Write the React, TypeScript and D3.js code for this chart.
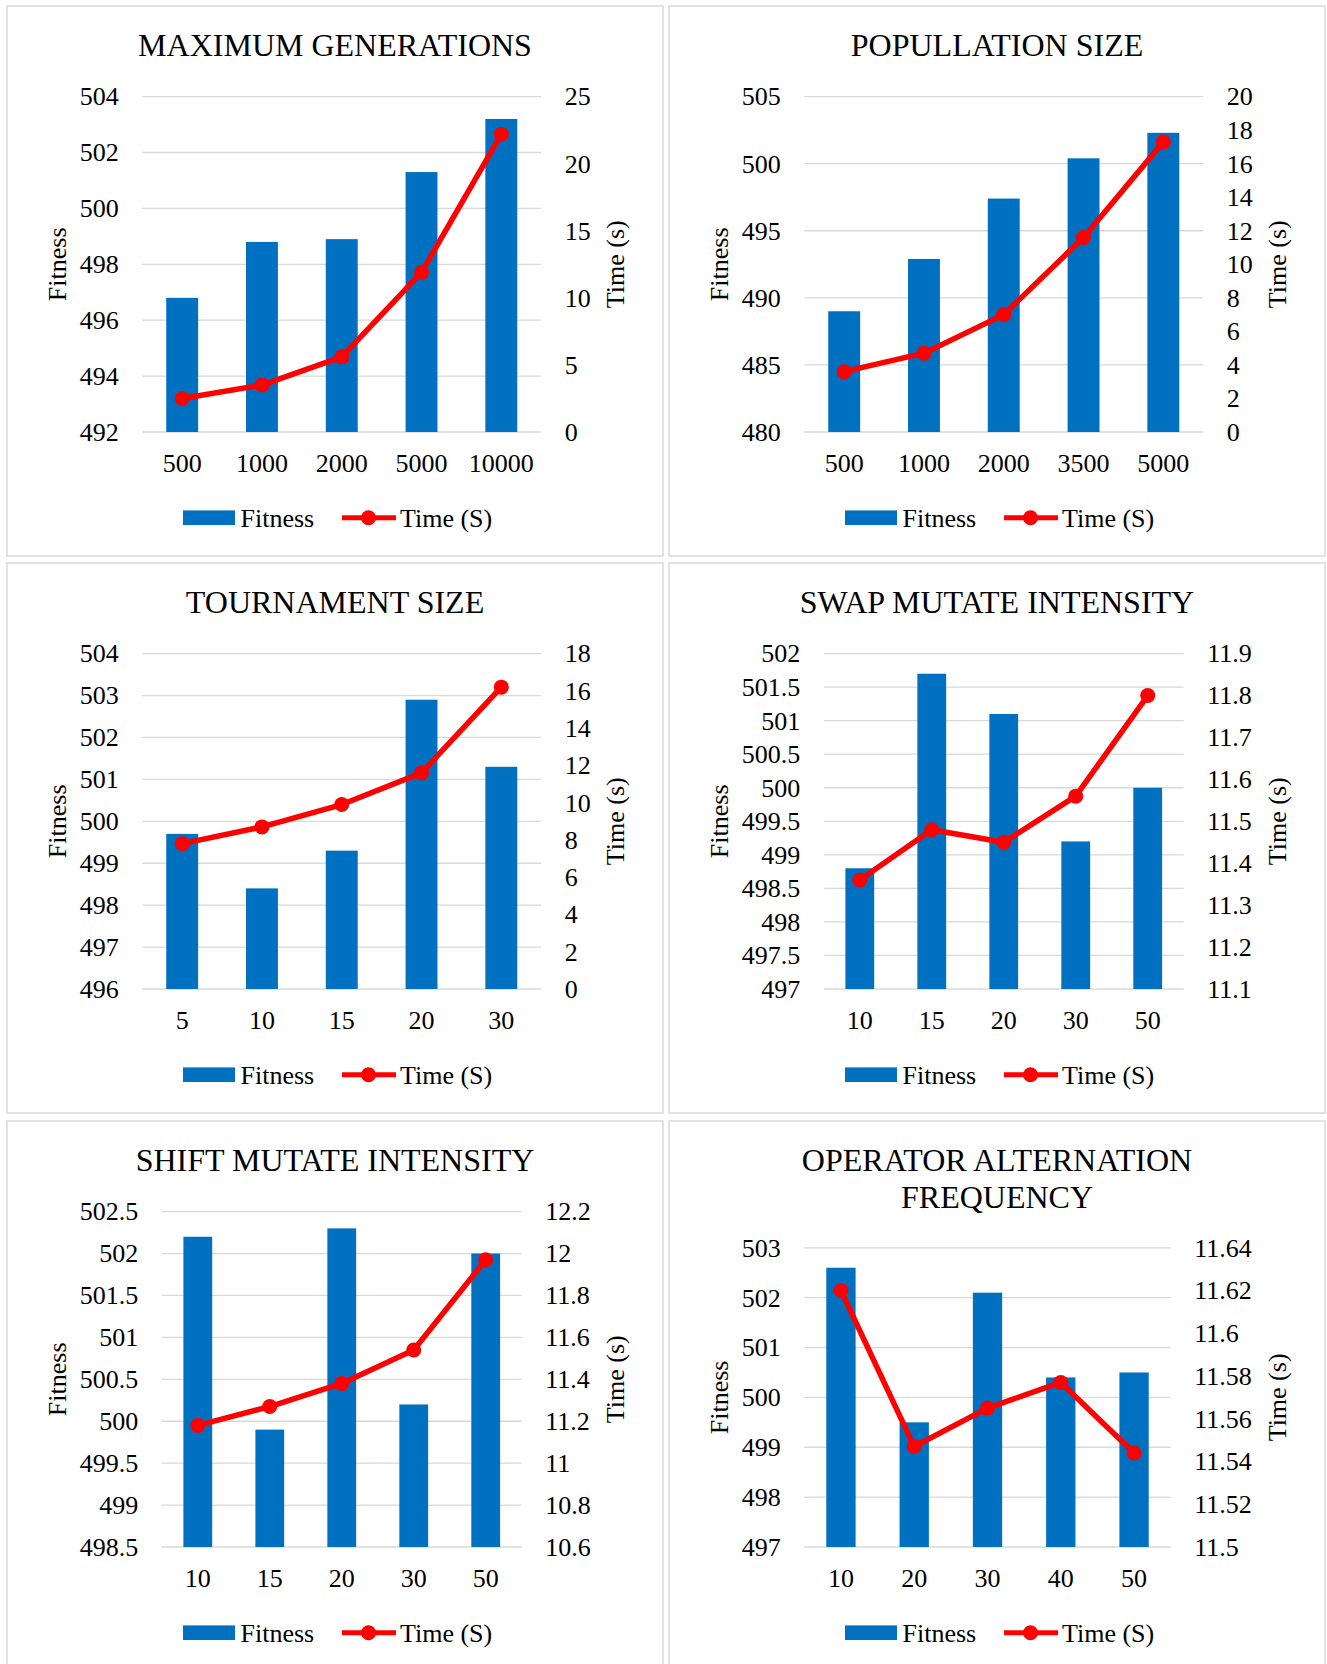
import React from "react";
import * as d3 from "d3";

// ---------- DATA ----------
const maxGenTitle = ["MAXIMUM GENERATIONS"];
const maxGenCategories = ["500", "1000", "2000", "5000", "10000"];
const maxGenFitness = [496.8, 498.8, 498.9, 501.3, 503.2];
const maxGenTime = [2.5, 3.5, 5.6, 11.9, 22.2];
const maxGenFitnessTicks = [492, 494, 496, 498, 500, 502, 504];
const maxGenTimeTicks = [0, 5, 10, 15, 20, 25];

const popTitle = ["POPULLATION SIZE"];
const popCategories = ["500", "1000", "2000", "3500", "5000"];
const popFitness = [489.0, 492.9, 497.4, 500.4, 502.3];
const popTime = [3.6, 4.7, 7.0, 11.6, 17.3];
const popFitnessTicks = [480, 485, 490, 495, 500, 505];
const popTimeTicks = [0, 2, 4, 6, 8, 10, 12, 14, 16, 18, 20];

const tourTitle = ["TOURNAMENT SIZE"];
const tourCategories = ["5", "10", "15", "20", "30"];
const tourFitness = [499.7, 498.4, 499.3, 502.9, 501.3];
const tourTime = [7.8, 8.7, 9.9, 11.6, 16.2];
const tourFitnessTicks = [496, 497, 498, 499, 500, 501, 502, 503, 504];
const tourTimeTicks = [0, 2, 4, 6, 8, 10, 12, 14, 16, 18];

const swapTitle = ["SWAP MUTATE INTENSITY"];
const swapCategories = ["10", "15", "20", "30", "50"];
const swapFitness = [498.8, 501.7, 501.1, 499.2, 500.0];
const swapTime = [11.36, 11.48, 11.45, 11.56, 11.8];
const swapFitnessTicks = [497, 497.5, 498, 498.5, 499, 499.5, 500, 500.5, 501, 501.5, 502];
const swapTimeTicks = [11.1, 11.2, 11.3, 11.4, 11.5, 11.6, 11.7, 11.8, 11.9];

const shiftTitle = ["SHIFT MUTATE INTENSITY"];
const shiftCategories = ["10", "15", "20", "30", "50"];
const shiftFitness = [502.2, 499.9, 502.3, 500.2, 502.0];
const shiftTime = [11.18, 11.27, 11.38, 11.54, 11.97];
const shiftFitnessTicks = [498.5, 499, 499.5, 500, 500.5, 501, 501.5, 502, 502.5];
const shiftTimeTicks = [10.6, 10.8, 11, 11.2, 11.4, 11.6, 11.8, 12, 12.2];

const opTitle = ["OPERATOR ALTERNATION", "FREQUENCY"];
const opCategories = ["10", "20", "30", "40", "50"];
const opFitness = [502.6, 499.5, 502.1, 500.4, 500.5];
const opTime = [11.62, 11.547, 11.565, 11.577, 11.544];
const opFitnessTicks = [497, 498, 499, 500, 501, 502, 503];
const opTimeTicks = [11.5, 11.52, 11.54, 11.56, 11.58, 11.6, 11.62, 11.64];

const legendLabels = ["Fitness", "Time (S)"];
const axisLabels = ["Fitness", "Time (s)"];

// ---------- STYLE ----------
const FONT = "'Liberation Serif', 'Times New Roman', Times, serif";
const BLUE = "#0070C0";
const RED = "#FF0000";
const GRID = "#D9D9D9";
const TXT = "#000000";

const panels = [
  { title: maxGenTitle, cats: maxGenCategories, fit: maxGenFitness, time: maxGenTime, fTicks: maxGenFitnessTicks, tTicks: maxGenTimeTicks },
  { title: popTitle, cats: popCategories, fit: popFitness, time: popTime, fTicks: popFitnessTicks, tTicks: popTimeTicks },
  { title: tourTitle, cats: tourCategories, fit: tourFitness, time: tourTime, fTicks: tourFitnessTicks, tTicks: tourTimeTicks },
  { title: swapTitle, cats: swapCategories, fit: swapFitness, time: swapTime, fTicks: swapFitnessTicks, tTicks: swapTimeTicks },
  { title: shiftTitle, cats: shiftCategories, fit: shiftFitness, time: shiftTime, fTicks: shiftFitnessTicks, tTicks: shiftTimeTicks },
  { title: opTitle, cats: opCategories, fit: opFitness, time: opTime, fTicks: opFitnessTicks, tTicks: opTimeTicks },
];

const fmt = (v: number) => String(+v.toFixed(4));
const textW = (s: string) => {
  let w = 0;
  for (const c of s) w += c === "." ? 0.25 : 0.5;
  return w * 26;
};

const colX = [7, 669];
const rowY = [6, 563, 1121];
const PW = 656;
const PH = 550;

function Panel({ p, x0, y0 }: any) {
  const fLabels = p.fTicks.map(fmt);
  const tLabels = p.tTicks.map(fmt);
  const maxL = Math.max(...fLabels.map(textW));
  const maxR = Math.max(...tLabels.map(textW));
  const left = 72.8 + maxL + 23.5;
  const right = 583.7 - maxR - 23.5;
  const top = p.title.length > 1 ? 126.8 : 90.6;
  const bottom = 426;

  const x = d3.scaleBand<string>().domain(p.cats).range([left, right]).paddingInner(0.6).paddingOuter(0.3);
  const yF = d3.scaleLinear().domain(d3.extent(p.fTicks) as [number, number]).range([bottom, top]);
  const yT = d3.scaleLinear().domain(d3.extent(p.tTicks) as [number, number]).range([bottom, top]);
  const line = d3
    .line<number>()
    .x((_, i) => (x(p.cats[i]) as number) + x.bandwidth() / 2)
    .y((d) => yT(d));
  const cx = PW / 2;
  const midY = (top + bottom) / 2;
  const lgX = cx - 152;
  const lgY = 511.7;

  return (
    <g transform={`translate(${x0},${y0})`} fontFamily={FONT} fill={TXT}>
      <rect x={0} y={0} width={PW} height={PH} fill="#fff" stroke={GRID} strokeWidth={1.5} />
      {p.title.map((t: string, i: number) => (
        <text key={i} x={cx} y={50.2 + i * 36.5} textAnchor="middle" fontSize={32}>
          {t}
        </text>
      ))}
      {p.fTicks.map((t: number, i: number) => (
        <g key={"g" + i}>
          <line x1={left} x2={right} y1={yF(t)} y2={yF(t)} stroke={GRID} strokeWidth={1.3} />
          <text x={left - 23.5} y={yF(t)} dy="0.34em" textAnchor="end" fontSize={26}>
            {fLabels[i]}
          </text>
        </g>
      ))}
      {p.tTicks.map((t: number, i: number) => (
        <text key={"t" + i} x={right + 23.5} y={yT(t)} dy="0.34em" textAnchor="start" fontSize={26}>
          {tLabels[i]}
        </text>
      ))}
      {p.fit.map((v: number, i: number) => (
        <rect key={"b" + i} x={x(p.cats[i])} y={yF(v)} width={x.bandwidth()} height={bottom - yF(v)} fill={BLUE} />
      ))}
      <path d={line(p.time) as string} fill="none" stroke={RED} strokeWidth={5.5} strokeLinejoin="round" />
      {p.time.map((v: number, i: number) => (
        <circle key={"c" + i} cx={(x(p.cats[i]) as number) + x.bandwidth() / 2} cy={yT(v)} r={7.5} fill={RED} />
      ))}
      {p.cats.map((c: string, i: number) => (
        <text key={"x" + i} x={(x(c) as number) + x.bandwidth() / 2} y={466} textAnchor="middle" fontSize={26}>
          {c}
        </text>
      ))}
      <text transform={`translate(58.6,${midY}) rotate(-90)`} textAnchor="middle" fontSize={26}>
        {axisLabels[0]}
      </text>
      <text transform={`translate(617,${midY}) rotate(-90)`} textAnchor="middle" fontSize={26}>
        {axisLabels[1]}
      </text>
      <rect x={lgX} y={lgY - 7.3} width={52} height={14.6} fill={BLUE} />
      <text x={lgX + 57.5} y={lgY} dy="0.34em" fontSize={26}>
        {legendLabels[0]}
      </text>
      <line x1={lgX + 159} x2={lgX + 213} y1={lgY} y2={lgY} stroke={RED} strokeWidth={5} />
      <circle cx={lgX + 185.5} cy={lgY} r={7.5} fill={RED} />
      <text x={lgX + 217} y={lgY} dy="0.34em" fontSize={26}>
        {legendLabels[1]}
      </text>
    </g>
  );
}

export default function App() {
  return (
    <div style={{ position: "absolute", left: 0, top: 0, width: 1327, height: 1664, overflow: "hidden", background: "#fff" }}>
      <svg width={1327} height={1664} style={{ display: "block" }}>
        <rect x={0} y={0} width={1327} height={1664} fill="#fff" />
        {panels.map((p, i) => (
          <Panel key={i} p={p} x0={colX[i % 2]} y0={rowY[Math.floor(i / 2)]} />
        ))}
      </svg>
    </div>
  );
}
